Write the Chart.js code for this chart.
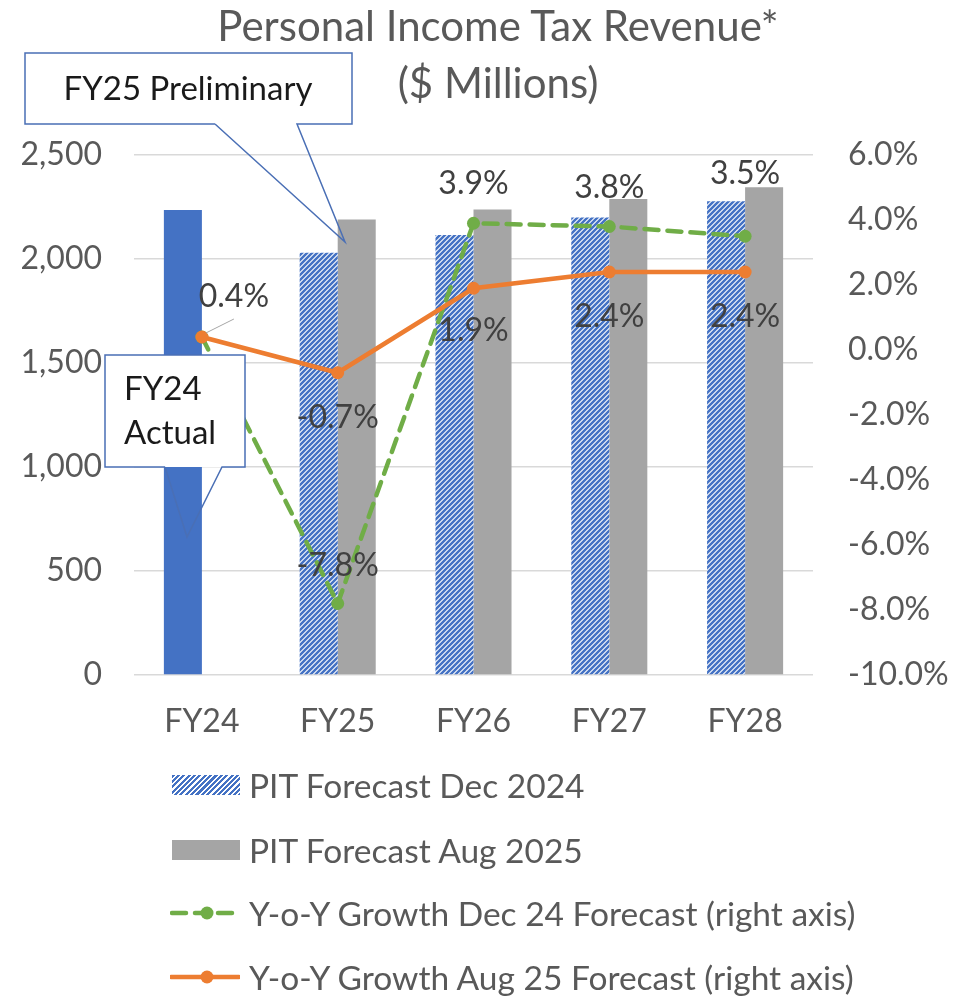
<!DOCTYPE html>
<html>
<head>
<meta charset="utf-8">
<script src="https://cdn.jsdelivr.net/npm/chart.js@4.4.1/dist/chart.umd.min.js"></script>
<style>
html, body { margin: 0; padding: 0; background: #fff; }
#wrap { position: relative; width: 958px; height: 996px; overflow: hidden; font-family: Lato, sans-serif; }
#grafico { position: absolute; left: 0; top: 0; }
.titulo { position: absolute; left: 0; width: 996px; text-align: center; color: #595959; font-size: 42px; line-height: 50px; }
.leg { position: absolute; left: 170px; height: 40px; display: flex; align-items: center; color: #595959; font-size: 33.5px; white-space: nowrap; }
.leg .sw { width: 70px; height: 20px; margin-right: 9px; flex: none; }
.hach { background: repeating-linear-gradient(135deg, #4472C4 0 2.2px, #fff 2.2px 3.8px); margin-left: 2px; width: 68px !important; }
.cinza { background: #A5A5A5; margin-left: 2px; width: 68px !important; }
</style>
</head>
<body>
<div id="wrap">
  <canvas id="grafico" width="958" height="996"></canvas>
  <div class="titulo" style="top:0px">Personal Income Tax Revenue*</div>
  <div class="titulo" style="top:57px">($ Millions)</div>

  <div class="leg" style="top:765px"><div class="sw hach"></div>PIT Forecast Dec 2024</div>
  <div class="leg" style="top:830px"><div class="sw cinza"></div>PIT Forecast Aug 2025</div>
  <div class="leg" style="top:893px">
    <svg class="sw" width="70" height="20" viewBox="0 0 70 20"><line x1="2" y1="10" x2="68" y2="10" stroke="#70AD47" stroke-width="4.5" stroke-dasharray="14 9" stroke-linecap="round"/><circle cx="37" cy="10" r="6.5" fill="#70AD47"/></svg>
    Y-o-Y Growth Dec 24 Forecast (right axis)</div>
  <div class="leg" style="top:957px">
    <svg class="sw" width="70" height="20" viewBox="0 0 70 20"><line x1="1" y1="10" x2="69" y2="10" stroke="#ED7D31" stroke-width="4.5" stroke-linecap="round"/><circle cx="37" cy="10" r="6.5" fill="#ED7D31"/></svg>
    Y-o-Y Growth Aug 25 Forecast (right axis)</div>
</div>

<script>
// --- dados ---
const categorias = ['FY24', 'FY25', 'FY26', 'FY27', 'FY28'];
const pitDez2024 = [2235, 2030, 2115, 2200, 2278];
const pitAgo2025 = [null, 2190, 2238, 2288, 2345];
const crescDez24 = [0.4, -7.8, 3.9, 3.8, 3.5];
const crescAgo25 = [0.4, -0.7, 1.9, 2.4, 2.4];
const ticksEsq = { min: 0, max: 2500, passo: 500 };
const ticksDir = { min: -10, max: 6, passo: 2 };

const AZUL = '#4472C4', CINZA = '#A5A5A5', VERDE = '#70AD47', LARANJA = '#ED7D31';
const FONTE = 'Lato';

const canvas = document.getElementById('grafico');
const ctx = canvas.getContext('2d');

// padrão hachurado (linhas diagonais azuis)
function criarHachura() {
    const t = document.createElement('canvas');
    t.width = 5; t.height = 5;
    const g = t.getContext('2d');
    g.fillStyle = '#fff'; g.fillRect(0, 0, 5, 5);
    g.strokeStyle = AZUL; g.lineWidth = 2.5;
    g.beginPath();
    g.moveTo(-1, 6); g.lineTo(6, -1);
    g.moveTo(-1, 1); g.lineTo(1, -1);
    g.moveTo(4, 6); g.lineTo(6, 4);
    g.stroke();
    return ctx.createPattern(t, 'repeat');
}
const hachura = criarHachura();

// deslocamento dos rótulos em relação ao ponto [dx, dy]
const rotulosDez24 = [null, [0, -38], [0, -40], [0, -39], [0, -63]];
const rotulosAgo25 = [[32, -40], [0, 45], [0, 42], [0, 45], [0, 45]];

const rotulosPlugin = {
    id: 'rotulos',
    afterDatasetsDraw(chart) {
        const c = chart.ctx;
        c.save();
        c.font = `32px ${FONTE}`;
        c.fillStyle = '#404040';
        c.textAlign = 'center';
        c.textBaseline = 'middle';
        [[2, rotulosDez24], [3, rotulosAgo25]].forEach(([di, offs]) => {
            const meta = chart.getDatasetMeta(di);
            const vals = chart.data.datasets[di].data;
            meta.data.forEach((pt, i) => {
                const o = offs[i];
                if (!o) return;
                c.fillText(vals[i].toFixed(1) + '%', pt.x + o[0], pt.y + o[1]);
            });
        });
        // linha guia do rótulo FY24
        const p0 = chart.getDatasetMeta(3).data[0];
        c.strokeStyle = '#A6A6A6';
        c.lineWidth = 1;
        c.beginPath();
        c.moveTo(p0.x + 4, p0.y - 4);
        c.lineTo(p0.x + 32, p0.y - 18);
        c.stroke();
        c.restore();
    }
};

// caixas de texto (callouts)
const callouts = [
    { caixa: [25, 53, 327, 71], base: [215, 297], ponta: [345, 242], linhas: [['FY25 Preliminary', 188, 89, 'center']] },
    { caixa: [105, 355, 140, 112], base: [165, 222], ponta: [187, 537], linhas: [['FY24', 124, 389, 'left'], ['Actual', 124, 433, 'left']] }
];

const calloutPlugin = {
    id: 'callouts',
    afterDraw(chart) {
        const c = chart.ctx;
        c.save();
        callouts.forEach(k => {
            const [x, y, w, h] = k.caixa;
            const yb = y + h;
            c.fillStyle = '#fff';
            c.fillRect(x, y, w, h);
            c.strokeStyle = '#4A6FB5';
            c.lineWidth = 1.5;
            c.beginPath();
            c.moveTo(k.base[0], yb);
            c.lineTo(x, yb);
            c.lineTo(x, y);
            c.lineTo(x + w, y);
            c.lineTo(x + w, yb);
            c.lineTo(k.base[1], yb);
            c.lineTo(k.ponta[0], k.ponta[1]);
            c.lineTo(k.base[0], yb);
            c.stroke();
            c.fillStyle = '#1a1a1a';
            c.font = `33px ${FONTE}`;
            c.textBaseline = 'middle';
            k.linhas.forEach(([txt, tx, ty, al]) => {
                c.textAlign = al;
                c.fillText(txt, tx, ty);
            });
        });
        c.restore();
    }
};

new Chart(ctx, {
    type: 'bar',
    data: {
        labels: categorias,
        datasets: [
            {
                label: 'PIT Forecast Dec 2024',
                data: pitDez2024,
                backgroundColor: pitDez2024.map((v, i) => i === 0 ? AZUL : hachura),
                yAxisID: 'y',
                order: 2,
                categoryPercentage: 0.56,
                barPercentage: 1.0
            },
            {
                label: 'PIT Forecast Aug 2025',
                data: pitAgo2025,
                backgroundColor: CINZA,
                yAxisID: 'y',
                order: 2,
                categoryPercentage: 0.56,
                barPercentage: 1.0
            },
            {
                type: 'line',
                label: 'Y-o-Y Growth Dec 24 Forecast (right axis)',
                data: crescDez24,
                borderColor: VERDE,
                backgroundColor: VERDE,
                borderWidth: 4.5,
                borderDash: [14, 9],
                borderCapStyle: 'round',
                pointRadius: 6.5,
                pointBorderWidth: 0,
                tension: 0,
                yAxisID: 'y1',
                order: 1
            },
            {
                type: 'line',
                label: 'Y-o-Y Growth Aug 25 Forecast (right axis)',
                data: crescAgo25,
                borderColor: LARANJA,
                backgroundColor: LARANJA,
                borderWidth: 4.5,
                pointRadius: 6.5,
                pointBorderWidth: 0,
                tension: 0,
                yAxisID: 'y1',
                order: 0
            }
        ]
    },
    options: {
        responsive: false,
        animation: false,
        layout: { padding: { top: 155, bottom: 221, left: 0, right: 0 } },
        plugins: {
            legend: { display: false },
            title: { display: false },
            tooltip: { enabled: false }
        },
        scales: {
            x: {
                grid: { display: false },
                border: { display: false },
                ticks: { color: '#595959', font: { family: FONTE, size: 32 }, padding: 19 },
                afterFit: (s) => { s.height = 100; }
            },
            y: {
                position: 'left',
                min: ticksEsq.min, max: ticksEsq.max,
                ticks: {
                    stepSize: ticksEsq.passo,
                    color: '#595959',
                    font: { family: FONTE, size: 32 },
                    padding: 32,
                    callback: (v) => v.toLocaleString('en-US')
                },
                grid: { color: '#D9D9D9', lineWidth: 1.5, drawTicks: false },
                border: { display: false },
                afterFit: (s) => { s.width = 134; }
            },
            y1: {
                position: 'right',
                min: ticksDir.min, max: ticksDir.max,
                ticks: {
                    stepSize: ticksDir.passo,
                    color: '#595959',
                    font: { family: FONTE, size: 32 },
                    padding: 35,
                    callback: (v) => v.toFixed(1) + '%'
                },
                grid: { display: false, drawTicks: false },
                border: { display: false },
                afterFit: (s) => { s.width = 145; }
            }
        }
    },
    plugins: [rotulosPlugin, calloutPlugin]
});
</script>
</body>
</html>
